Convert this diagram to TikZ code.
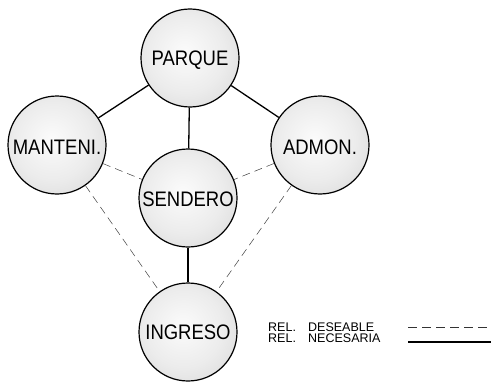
\documentclass[tikz,border=0pt]{standalone}
\usepackage{fontspec}
\setmainfont{Liberation Sans}
\pgfdeclareradialshading{myball}{\pgfpoint{-3bp}{3bp}}{%
  color(0bp)=(gray!3); color(20bp)=(gray!15); color(38bp)=(gray!32); color(50bp)=(gray!55); color(70bp)=(gray!55)}
\tikzset{
  circnode/.style={circle, draw=black, line width=1.2pt, minimum size=98pt, inner sep=0pt,
    shading=myball},
  circtext/.style={inner sep=0pt, font=\fontsize{21}{24}\selectfont},
  reqline/.style={line width=1.3pt, black},
  desline/.style={line width=0.5pt, black!75, dash pattern=on 8pt off 5pt},
  legtext/.style={anchor=west, inner sep=0pt, font=\fontsize{12.5}{13}\selectfont}
}
\newcommand{\ctext}[1]{\scalebox{0.88}[1]{#1}}
\newcommand{\legrow}[1]{\makebox[40pt][l]{REL.}#1}
\begin{document}
\begin{tikzpicture}[x=1pt,y=-1pt]
\useasboundingbox (0,0) rectangle (497,385);
% circles
\node[circnode] (parque) at (190,58) {};
\node[circnode] (manteni) at (57,145) {};
\node[circnode] (admon) at (320,145) {};
\node[circnode] (sendero) at (188,198) {};
\node[circnode] (ingreso) at (188,332) {};
% connectors
\draw[reqline] (parque) -- (manteni);
\draw[reqline] (parque) -- (admon);
\draw[reqline] (parque) -- (sendero);
\draw[reqline] (sendero) -- (ingreso);
\draw[desline] (manteni) -- (sendero);
\draw[desline] (admon) -- (sendero);
\draw[desline] (manteni) -- (ingreso);
\draw[desline] (admon) -- (ingreso);
% labels
\node[circtext] (parque-t) at ([yshift=-2.5pt]parque.center) {\ctext{PARQUE}};
\node[circtext] (manteni-t) at ([yshift=-2.5pt]manteni.center) {\ctext{MANTENI.}};
\node[circtext] (admon-t) at ([yshift=-2.5pt]admon.center) {\ctext{ADMON.}};
\node[circtext] (sendero-t) at ([yshift=-1.5pt]sendero.center) {\ctext{SENDERO}};
\node[circtext] (ingreso-t) at ([yshift=0pt]ingreso.center) {\ctext{INGRESO}};
% legend
\node[legtext] (ldes) at (268,327) {\legrow{DESEABLE}};
\node[legtext] (lnec) at (268,338) {\legrow{NECESARIA}};
\coordinate (d1) at (408,327);
\coordinate (d2) at (491,327);
\coordinate (n1) at (408,342);
\coordinate (n2) at (491,342);
\draw[line width=0.6pt, black!80, dash pattern=on 9pt off 5pt] (d1) -- (d2);
\draw[line width=1.4pt] (n1) -- (n2);
\end{tikzpicture}
\end{document}
